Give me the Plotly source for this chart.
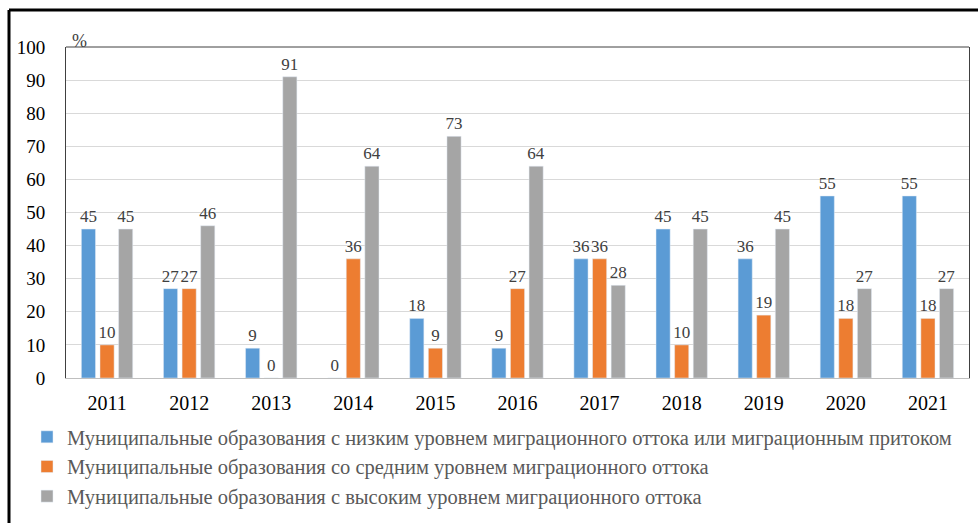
import plotly.graph_objects as go

years = ["2011", "2012", "2013", "2014", "2015", "2016", "2017", "2018", "2019", "2020", "2021"]
low = [45, 27, 9, 0, 18, 9, 36, 45, 36, 55, 55]
mid = [10, 27, 0, 36, 9, 27, 36, 10, 19, 18, 18]
high = [45, 46, 91, 64, 73, 64, 28, 45, 45, 27, 27]
names = [
    "Муниципальные образования с низким уровнем миграционного оттока или миграционным притоком",
    "Муниципальные образования со средним уровнем миграционного оттока",
    "Муниципальные образования с высоким уровнем миграционного оттока",
]
colors = ["#5B9BD5", "#ED7D31", "#A5A5A5"]

W, H = 978, 523
L, R, T, B = 66, 9, 47, 145
pw, ph = W - L - R, H - T - B

def px(x):
    return (x - L) / pw

def py(y):
    return (H - B - y) / ph

FONT = "Liberation Serif"

fig = go.Figure()
for vals, nm, c in zip([low, mid, high], names, colors):
    fig.add_trace(go.Bar(
        x=years, y=vals, name=nm, marker_color=c,
        text=[str(v) for v in vals], textposition="outside",
        textfont=dict(family=FONT, size=17, color="#404040"),
        cliponaxis=False,
    ))

fig.update_layout(
    width=W, height=H,
    margin=dict(l=L, r=R, t=T, b=B, autoexpand=False),
    paper_bgcolor="white", plot_bgcolor="white",
    barmode="group", bargap=0.32, bargroupgap=0.24,
    font=dict(family=FONT, size=19, color="#000000"),
    showlegend=True,
    legend=dict(
        xref="container", yref="container",
        x=27 / W, y=1 - 417 / H, xanchor="left", yanchor="top",
        orientation="v", font=dict(family=FONT, size=20.5, color="#595959"),
        tracegroupgap=0, itemwidth=30, bgcolor="rgba(0,0,0,0)",
    ),
    xaxis=dict(showgrid=False, showline=True, linecolor="#BFBFBF", linewidth=1,
               ticks="", ticklabelstandoff=7,
               tickfont=dict(family=FONT, size=20, color="#000000")),
    yaxis=dict(range=[0, 100], dtick=10, showgrid=True, gridcolor="#D9D9D9",
               zeroline=False, showline=True, linecolor="#404040", linewidth=1,
               mirror=True, ticks="", ticklabelstandoff=16,
               tickfont=dict(family=FONT, size=19, color="#000000")),
    shapes=[
        dict(type="line", xref="paper", yref="paper", x0=0, x1=1, y0=1, y1=1,
             line=dict(color="#404040", width=1)),
        dict(type="line", xref="paper", yref="paper", x0=px(9), x1=px(980), y0=py(10), y1=py(10),
             line=dict(color="#000000", width=3)),
        dict(type="line", xref="paper", yref="paper", x0=px(9), x1=px(9), y0=py(10), y1=py(530),
             line=dict(color="#000000", width=3)),
    ],
    annotations=[
        dict(text="%", xref="paper", yref="paper", x=px(70), y=py(29),
             showarrow=False, font=dict(family=FONT, size=18, color="#404040")),
    ],
)
fig.update_traces(constraintext="none")

fig.write_html("out.html", post_script="document.body.style.margin='0';",
               config={"displayModeBar": False})
